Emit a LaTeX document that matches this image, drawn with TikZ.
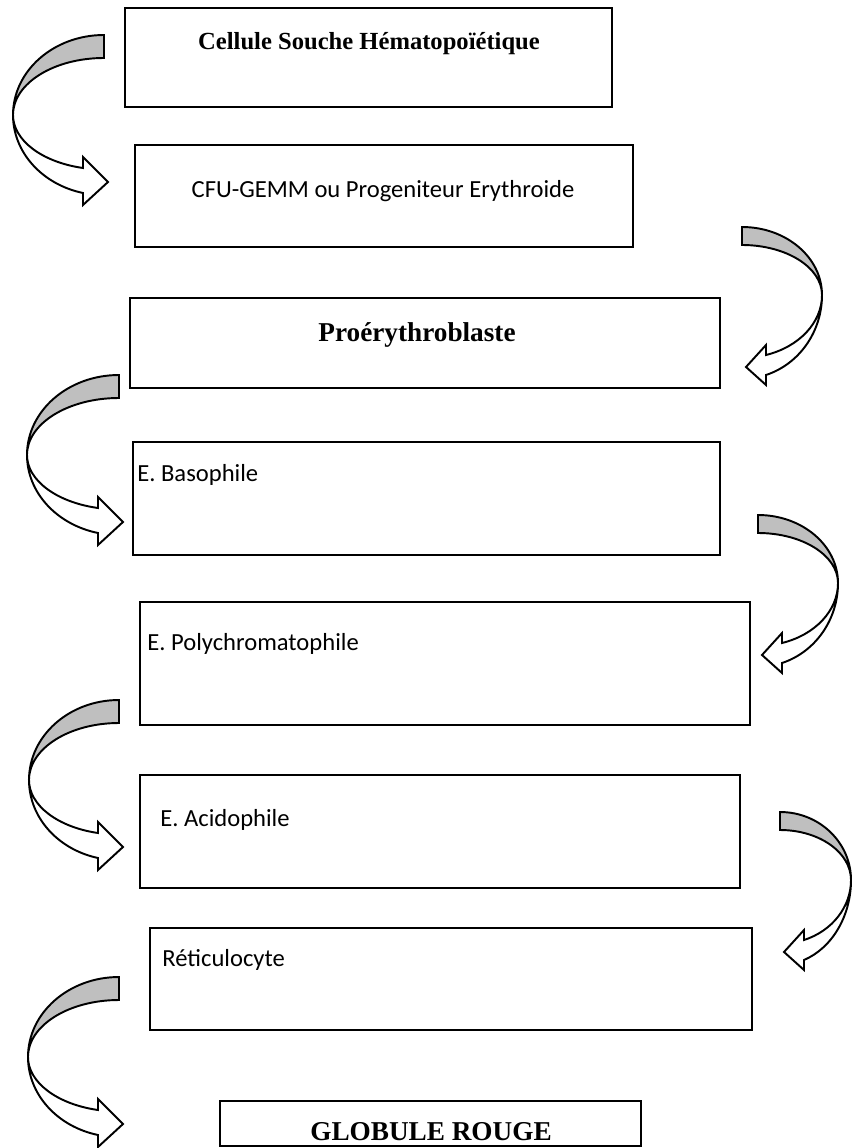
\documentclass[tikz,border=0pt]{standalone}
\usepackage{fontspec}
\setmainfont{Liberation Serif}
\newfontfamily\calib{Carlito}
\usetikzlibrary{fit}
\tikzset{
  box/.style={draw=black, line width=0.9pt, inner sep=0pt},
  serifbold/.style={font=\fontsize{14}{16}\selectfont\bfseries, inner sep=0pt},
  serifbig/.style={font=\fontsize{15.5}{18}\selectfont\bfseries, inner sep=0pt},
  calibtxt/.style={font=\calib\fontsize{14}{16}\selectfont, inner sep=0pt},
  backface/.style={draw=black, line width=1.1pt, fill=black!25},
  frontface/.style={draw=black, line width=1.1pt, fill=white},
}
% curved ribbon arrow: #1 cx, #2 cy, #3 R, #4 xscale (1 = head to the right, -1 = head to the left)
\newcommand\curvarrow[4]{%
  \pgfmathsetmacro\arrPhi{acos(\arrHdx/#3)}%
  \pgfmathsetmacro\arrFOr{\arrFO/sin(\arrPhi)}%
  \pgfmathsetmacro\arrFIr{\arrFI/sin(\arrPhi)}%
  \begin{scope}[shift={(#1,#2)}, xscale=#4]
    \filldraw[backface] (0,-\arrAO)
      arc[start angle=270, end angle=180, x radius=#3, y radius=\arrAO]
      arc[start angle=180, end angle=270, x radius=#3, y radius=\arrAI] -- cycle;
    \filldraw[frontface] (-#3,0)
      arc[start angle=180, end angle=\arrPhi, x radius=#3, y radius=\arrFOr]
      -- (\arrHdx,\arrBB) -- (\arrTdx,\arrTy) -- (\arrHdx,\arrBA) -- (\arrHdx,\arrFI)
      arc[start angle=\arrPhi, end angle=180, x radius=#3, y radius=\arrFIr] -- cycle;
  \end{scope}}
\newcommand\leftparams{\def\arrAO{80}\def\arrAI{57}\def\arrHdx{-21}\def\arrFO{78}\def\arrFI{53}%
  \def\arrBA{42}\def\arrBB{90}\def\arrTdx{4}\def\arrTy{67}}
\newcommand\rightparams{\def\arrAO{68}\def\arrAI{50}\def\arrHdx{-24}\def\arrFO{80}\def\arrFI{60}%
  \def\arrBA{50}\def\arrBB{90}\def\arrTdx{-4}\def\arrTy{72}}

\begin{document}
\begin{tikzpicture}[x=0.02cm, y=-0.02cm]
  \useasboundingbox (0,0) rectangle (853,1148);
  \fill[white] (0,0) rectangle (853,1148);

  % boxes
  \node[box, fit={(125,8) (612,107)}] (b1) {};
  \node[box, fit={(135,145) (633,247)}] (b2) {};
  \node[box, fit={(130,298) (720,388)}] (b3) {};
  \node[box, fit={(133,442) (720,555)}] (b4) {};
  \node[box, fit={(140,602) (750,725)}] (b5) {};
  \node[box, fit={(140,775) (740,888)}] (b6) {};
  \node[box, fit={(150,928) (752,1030)}] (b7) {};
  \node[box, fit={(220,1101) (641,1146)}] (b8) {};

  % texts
  \node[serifbold, anchor=base] (t1) at (369,50) {Cellule Souche Hématopoïétique};
  \node[calibtxt, anchor=base] (t2) at (383,198) {CFU-GEMM ou Progeniteur Erythroide};
  \node[serifbig, anchor=base] (t3) at (417,342) {Proérythroblaste};
  \node[calibtxt, anchor=base west] (t4) at (137,481) {E. Basophile};
  \node[calibtxt, anchor=base west] (t5) at (147,650) {E. Polychromatophile};
  \node[calibtxt, anchor=base west] (t6) at (160,826) {E. Acidophile};
  \node[calibtxt, anchor=base west] (t7) at (162,966) {Réticulocyte};
  \node[serifbig, anchor=base] (t8) at (431,1140) {GLOBULE ROUGE};

  % curved arrows
  \leftparams
  \curvarrow{104}{115}{91}{1}
  \curvarrow{119}{455}{92}{1}
  \curvarrow{119}{780}{90}{1}
  \curvarrow{119}{1057}{91}{1}
  \rightparams
  \curvarrow{742}{295}{80}{-1}
  \curvarrow{758}{583}{80}{-1}
  \curvarrow{780}{880}{71}{-1}
\end{tikzpicture}
\end{document}
